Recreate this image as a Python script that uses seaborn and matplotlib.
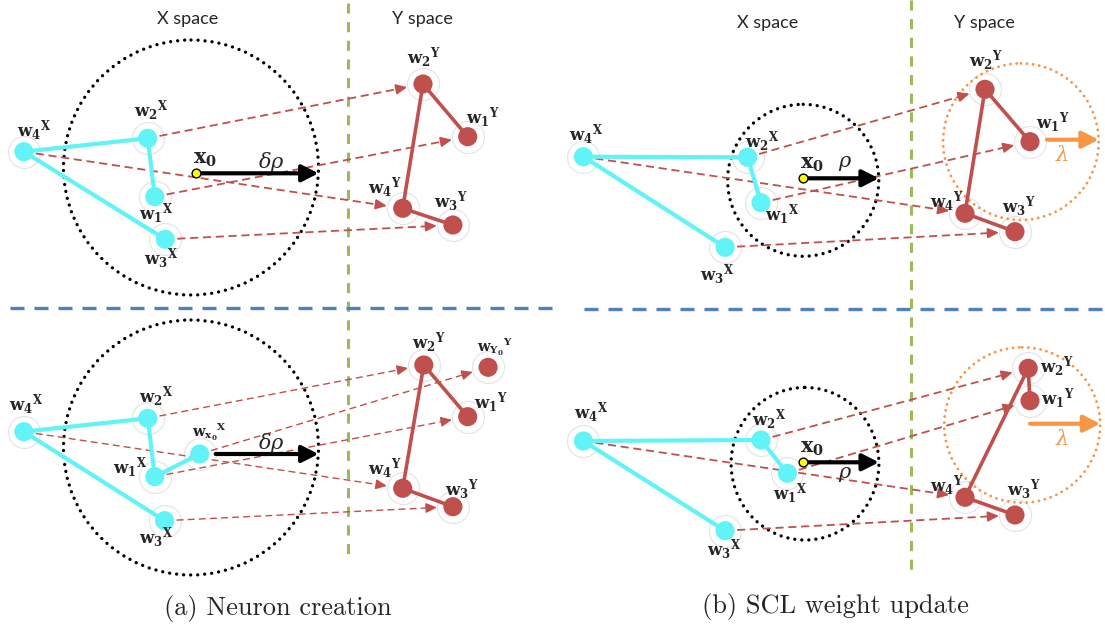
import matplotlib.pyplot as plt
import numpy as np
import pandas as pd
import seaborn as sns
from matplotlib.patches import Ellipse

# Colours (Office palette of the original drawing)
CYAN = "#62F3F6"
RED = "#C0504D"
GREEN = "#9BBB59"
BLUE = "#4F81BD"
ORANGE = "#F79646"

# %% Data (figure pixel coordinates, y grows downward)

# Neurons per panel: (index, x, y)
A_TOP_X = [("4", 23.9, 151.7), ("2", 147.7, 138.3), ("1", 154.8, 196.7), ("3", 165.3, 239.3)]
A_TOP_Y = [("2", 423.0, 84.0), ("1", 467.7, 136.7), ("4", 402.7, 208.3), ("3", 452.9, 225.0)]
A_BOT_X = [("4", 23.9, 431.7), ("2", 147.7, 418.3), ("1", 154.8, 476.7), ("x0", 199.7, 454.0), ("3", 164.6, 520.7)]
A_BOT_Y = [("2", 423.8, 365.0), ("Y0", 488.1, 367.3), ("1", 467.7, 416.7), ("4", 402.7, 488.3), ("3", 452.9, 506.7)]
B_TOP_X = [("4", 583.4, 156.7), ("2", 747.6, 157.3), ("1", 761.0, 202.7), ("3", 725.1, 247.3)]
B_TOP_Y = [("2", 985.0, 89.3), ("1", 1030.0, 141.7), ("4", 965.0, 213.3), ("3", 1015.0, 231.7)]
B_BOT_X = [("4", 583.4, 441.0), ("2", 761.0, 440.0), ("1", 787.4, 473.3), ("3", 725.1, 530.7)]
B_BOT_Y = [("2", 1028.2, 368.3), ("1", 1030.0, 400.7), ("4", 965.0, 497.3), ("3", 1015.0, 515.0)]

# input sample x0 (in the bottom-left panel it became neuron w_x0)
X0_POINTS = {"a_top": (196.0, 173.3), "b_top": (803.2, 178.3), "b_bot": (803.2, 462.3)}

# dotted radius circles: (cx, cy, rx, ry)
RHO_CIRCLES = {
    "a_top": (191.0, 167.5, 127.5, 127.5),
    "a_bot": (191.0, 447.5, 127.5, 127.5),
    "b_top": (803.2, 180.3, 75.6, 76.0),
    "b_bot": (805.0, 463.7, 73.9, 76.3),
}
LAMBDA_CIRCLES = {
    "b_top": (1020.9, 141.7, 77.8, 78.3),
    "b_bot": (1022.2, 425.0, 78.0, 77.7),
}

X_EDGES = [("4", "2"), ("2", "1"), ("4", "3")]
Y_EDGES = [("2", "1"), ("2", "4"), ("4", "3")]
MAPPING = [("2", "2"), ("1", "1"), ("4", "4"), ("3", "3")]

PANELS = {
    "a_top": (A_TOP_X, A_TOP_Y, X_EDGES, MAPPING),
    "a_bot": (A_BOT_X, A_BOT_Y, X_EDGES + [("1", "x0")], MAPPING + [("x0", "Y0")]),
    "b_top": (B_TOP_X, B_TOP_Y, X_EDGES, MAPPING),
    "b_bot": (B_BOT_X, B_BOT_Y, X_EDGES, MAPPING),
}

# label offsets from node centre
LABEL_OFFSETS = {
    "a_top": {"X4": (10, -21), "X2": (3, -28), "X1": (1, 17), "X3": (-4, 19),
              "Y2": (1, -26), "Y1": (15, -19), "Y4": (-18, -21), "Y3": (-2, -23)},
    "a_bot": {"X4": (2, -27), "X2": (8, -22), "X1": (-25, -9), "Xx0": (10, -22), "X3": (-8, 17),
              "Y2": (5, -22), "YY0": (7, -20), "Y1": (23, -14), "Y4": (-18, -20), "Y3": (9, -17)},
    "b_top": {"X4": (3, -22), "X2": (15, -16), "X1": (21, 12), "X3": (-8, 27),
              "Y2": (1, -29), "Y1": (23, -19), "Y4": (-18, -12), "Y3": (4, -25)},
    "b_bot": {"X4": (8, -28), "X2": (8, -20), "X1": (3, 20), "X3": (-1, 19),
              "Y2": (29, -2), "Y1": (28, -2), "Y4": (-18, -12), "Y3": (9, -25)},
}

# %% Helpers


def node_label(idx, space):
    if idx == "x0":
        sub = r"\mathbf{x}_{\mathbf{0}}"
    elif idx == "Y0":
        sub = r"\mathbf{Y}_{\mathbf{0}}"
    else:
        sub = r"\mathbf{%s}" % idx
    return r"$\mathbf{w}_{%s}{}^{\mathbf{%s}}$" % (sub, space)


def dashed_arrow(ax, p, q, lw, dash):
    p, q = np.array(p), np.array(q)
    u = (q - p) / np.linalg.norm(q - p)
    start = p + u * 12
    end = q - u * 16
    ax.plot(*zip(start, end - u * 4), color=RED, lw=lw, dashes=dash, zorder=2)
    ax.annotate(
        "", xy=end, xytext=end - u * 5,
        arrowprops=dict(arrowstyle="-|>,head_length=0.55,head_width=0.25", color=RED,
                        lw=lw, shrinkA=0, shrinkB=0, mutation_scale=12),
        zorder=2,
    )


def solid_arrow(ax, start, end, color):
    ax.annotate(
        "", xy=end, xytext=start,
        arrowprops=dict(arrowstyle="-|>,head_length=0.55,head_width=0.28", color=color,
                        lw=3, shrinkA=0, shrinkB=0, mutation_scale=18),
        zorder=5,
    )


# %% Build node table

rows = []
for panel, (xs, ys, _, _) in PANELS.items():
    for space, nodes in (("X", xs), ("Y", ys)):
        for idx, x, y in nodes:
            rows.append({"panel": panel, "space": space, "idx": idx, "x": x, "y": y})
nodes = pd.DataFrame(rows)

# %% Plot

sns.set_style("white")
plt.rcParams["mathtext.fontset"] = "dejavuserif"

fig = plt.figure(figsize=(11.05, 6.30), dpi=100)
ax = fig.add_axes([0, 0, 1, 1])

# faint rings + neurons
sns.scatterplot(data=nodes, x="x", y="y", s=530, color="white", edgecolor="#e3e3e3",
                linewidth=0.8, ax=ax, zorder=0.5, legend=False)
sns.scatterplot(data=nodes, x="x", y="y", hue="space", palette={"X": CYAN, "Y": RED},
                s=190, linewidth=0, ax=ax, zorder=4, legend=False)

for panel, (xs, ys, x_edges, mapping) in PANELS.items():
    pos_x = {i: (x, y) for i, x, y in xs}
    pos_y = {i: (x, y) for i, x, y in ys}
    for a, b in x_edges:
        ax.plot(*zip(pos_x[a], pos_x[b]), color=CYAN, lw=3, solid_capstyle="round", zorder=3)
    for a, b in Y_EDGES:
        ax.plot(*zip(pos_y[a], pos_y[b]), color=RED, lw=2.6, solid_capstyle="round", zorder=3)
    lw, dash = (1.0, (5, 3)) if panel == "a_bot" else (1.3, (4.5, 2.6))
    for a, b in mapping:
        dashed_arrow(ax, pos_x[a], pos_y[b], lw, dash)

    offs = LABEL_OFFSETS[panel]
    for space, pos in (("X", pos_x), ("Y", pos_y)):
        for idx, (x, y) in pos.items():
            dx, dy = offs[space + idx]
            small = idx in ("x0", "Y0")
            ax.text(x + dx, y + dy, node_label(idx, space), ha="center", va="center",
                    fontsize=10.5 if small else 12, zorder=7)

    cx, cy, rx, ry = RHO_CIRCLES[panel]
    ax.add_patch(Ellipse((cx, cy), 2 * rx, 2 * ry, fill=False, ec="black", lw=2.4,
                         ls=(0, (0.01, 2.1)), capstyle="round", zorder=1))

# rho arrows
for panel, (x, y) in X0_POINTS.items():
    cx, cy, rx, ry = RHO_CIRCLES[panel]
    solid_arrow(ax, (x, y), (cx + rx, y), "black")
    ax.text(x - 3, y - 4, r"$\mathbf{x_0}$", ha="left", va="bottom", fontsize=15, zorder=7)
x0n = dict((i, (x, y)) for i, x, y in A_BOT_X)["x0"]
solid_arrow(ax, (x0n[0] + 16, x0n[1]), (RHO_CIRCLES["a_bot"][0] + RHO_CIRCLES["a_bot"][2], x0n[1]), "black")

sns.scatterplot(x=[p[0] for p in X0_POINTS.values()], y=[p[1] for p in X0_POINTS.values()],
                s=40, color="#FFFF00", edgecolor="black", linewidth=1, ax=ax, zorder=6)

for (x, y), lab in zip([(271, 162), (271, 443), (845, 163), (845, 474)],
                       [r"$\delta\rho$", r"$\delta\rho$", r"$\rho$", r"$\rho$"]):
    ax.text(x, y, lab, ha="center", va="center", fontsize=15, zorder=7)

# lambda circles / arrows
for panel, y_nodes in (("b_top", B_TOP_Y), ("b_bot", B_BOT_Y)):
    cx, cy, rx, ry = LAMBDA_CIRCLES[panel]
    ax.add_patch(Ellipse((cx, cy), 2 * rx, 2 * ry, fill=False, ec=ORANGE, lw=2.1,
                         ls=(0, (0.01, 2.1)), capstyle="round", zorder=1))
    w1 = dict((i, (x, y)) for i, x, y in y_nodes)["1"]
    ay = w1[1] - 2 if panel == "b_top" else w1[1] + 23
    ax0 = w1[0] + 17 if panel == "b_top" else w1[0]
    solid_arrow(ax, (ax0, ay), (cx + rx, ay), ORANGE)
    ax.text(1062, ay + 15, r"$\lambda$", color=ORANGE, ha="center", va="center", fontsize=15, zorder=7)

# space separators
ax.plot([348, 348], [3, 562], color=GREEN, lw=2.2, dashes=(3.3, 2.8), zorder=1)
ax.plot([910.5, 910.5], [0, 572], color=GREEN, lw=2.2, dashes=(3.3, 2.8), zorder=1)
ax.plot([10, 552], [308, 308], color=BLUE, lw=2.4, dashes=(4.2, 3.0), zorder=1)
ax.plot([584, 1105], [308.5, 308.5], color=BLUE, lw=2.4, dashes=(4.2, 3.0), zorder=1)

for x, y, lab in [(188, 19, "X space"), (422, 19, "Y space"), (768, 23, "X space"), (984, 23, "Y space")]:
    ax.text(x, y, lab, ha="center", va="center", fontsize=13, family="Lato")

ax.text(278, 609, "(a) Neuron creation", ha="center", va="center", fontsize=19, family="cmr10")
ax.text(835, 606, "(b) SCL weight update", ha="center", va="center", fontsize=19, family="cmr10")

ax.set_xlim(0, 1105)
ax.set_ylim(630, 0)
ax.axis("off")

fig.savefig("out.png", dpi=100)
